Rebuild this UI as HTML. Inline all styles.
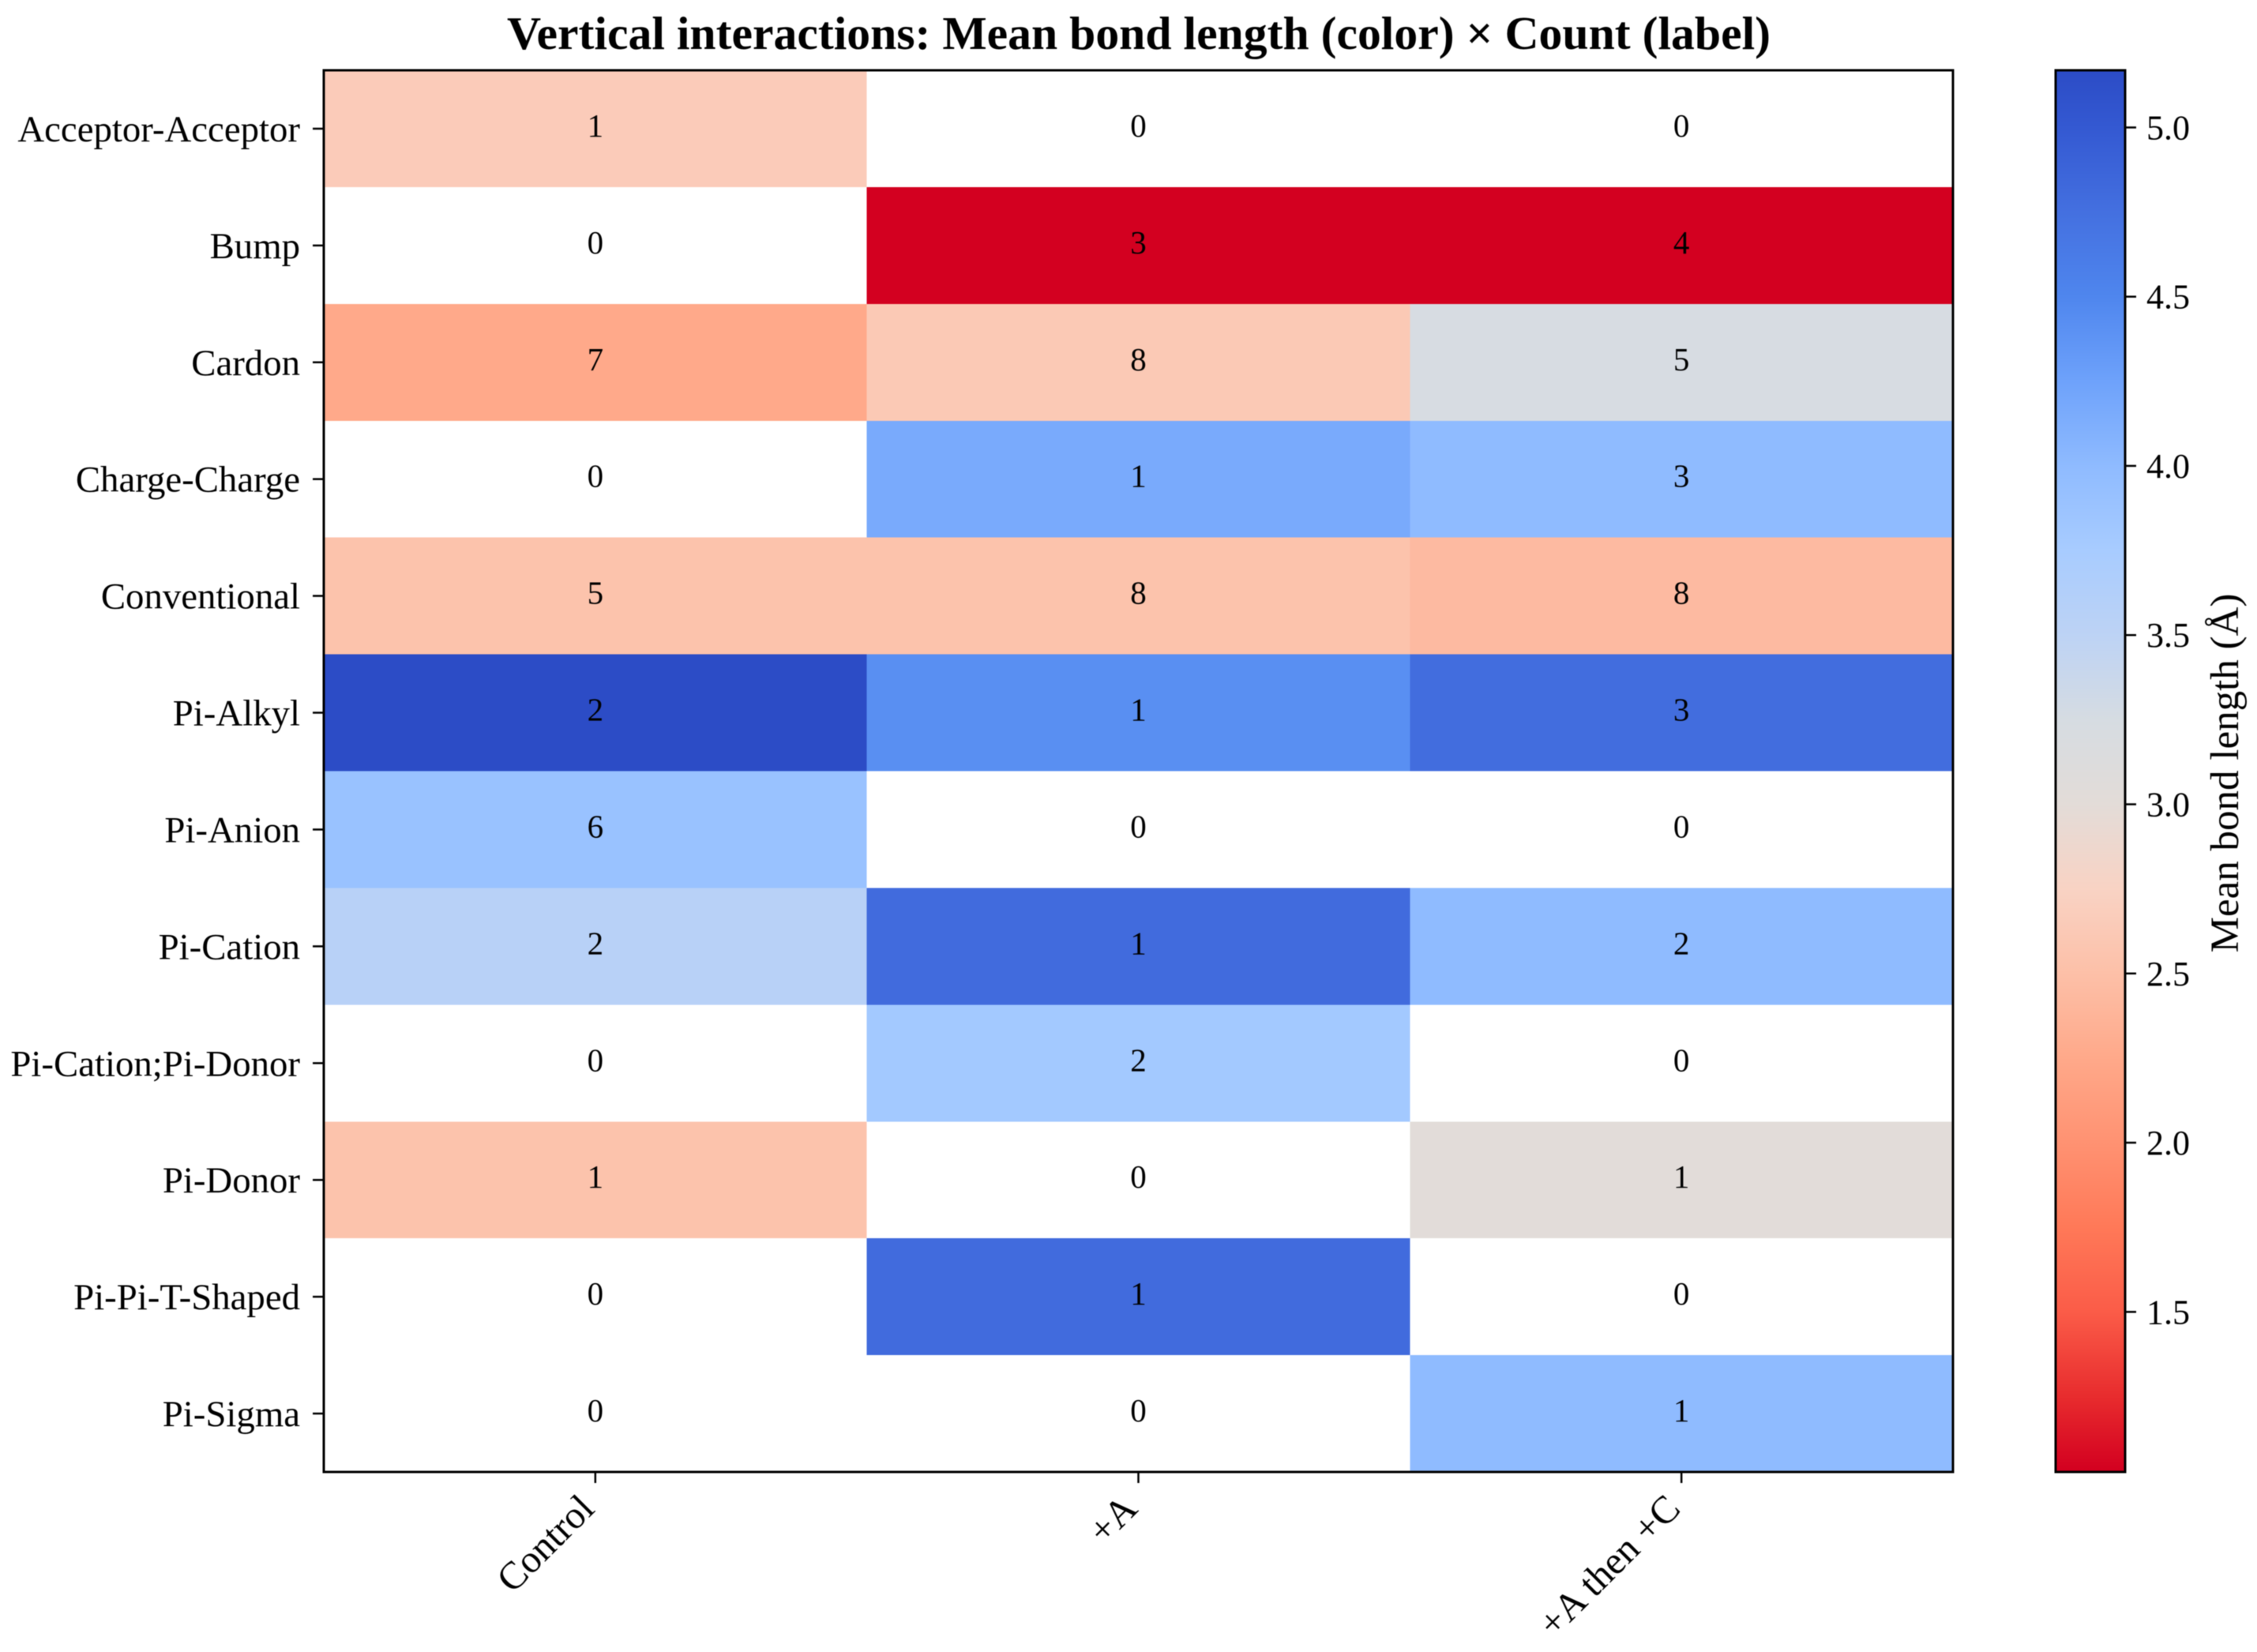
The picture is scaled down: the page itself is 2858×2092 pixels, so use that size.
<!DOCTYPE html>
<html lang="en">
<head>
<meta charset="utf-8">
<title>Vertical interactions heatmap</title>
<style>
html,body{margin:0;padding:0;background:#fff;}
svg{display:block;filter:blur(0.6px);}
text{font-family:"Liberation Serif",serif;fill:#000;}
</style>
</head>
<body>
<svg id="chart" width="2858" height="2092" viewBox="0 0 2858 2092" xmlns="http://www.w3.org/2000/svg">
  <rect x="0" y="0" width="2858" height="2092" fill="#ffffff"/>
  <text x="1442" y="62" text-anchor="middle" font-size="59.7" font-weight="700">Vertical interactions: Mean bond length (color) × Count (label)</text>
  <defs>
    <linearGradient id="cbGradient" x1="0" y1="1" x2="0" y2="0"></linearGradient>
  </defs>
  <g id="cells" shape-rendering="crispEdges"></g>
  <g id="cellLabels"></g>
  <rect x="410" y="89" width="2063" height="1775" fill="none" stroke="#000" stroke-width="3"/>
  <g id="yAxis"></g>
  <g id="xAxis"></g>
  <rect x="2603" y="89" width="88" height="1775" fill="url(#cbGradient)"/>
  <rect x="2603" y="89" width="88" height="1775" fill="none" stroke="#000" stroke-width="3"/>
  <g id="cbAxis"></g>
  <text transform="translate(2834 979) rotate(-90)" text-anchor="middle" font-size="51">Mean bond length (Å)</text>
</svg>
<script>
const interactions = ["Acceptor-Acceptor","Bump","Cardon","Charge-Charge","Conventional","Pi-Alkyl","Pi-Anion","Pi-Cation","Pi-Cation;Pi-Donor","Pi-Donor","Pi-Pi-T-Shaped","Pi-Sigma"];
const treatments = ["Control","+A","+A then +C"];

const lengthControl = [2.65,null,2.25,null,2.54,5.17,3.9,3.56,null,2.54,null,null];
const lengthA = [null,1.03,2.62,4.17,2.54,4.42,null,4.8,3.8,null,4.8,null];
const lengthAThenC = [null,1.03,3.24,4.0,2.44,4.78,null,4.0,null,3.02,null,4.0];

const countControl = [1,0,7,0,5,2,6,2,0,1,0,0];
const countA = [0,3,8,1,8,1,0,1,2,0,1,0];
const countAThenC = [0,4,5,3,8,3,0,2,0,1,0,1];

const colorbarTicks = ["5.0","4.5","4.0","3.5","3.0","2.5","2.0","1.5"];
const scaleMin = 1.027;
const scaleMax = 5.169;

const rampValues = [1.03,1.25,1.5,1.75,2.0,2.25,2.5,2.75,3.0,3.25,3.5,3.75,4.0,4.25,4.5,4.75,5.0,5.17];
const rampColors = ["#d30020","#e82c2e","#fb5c48","#ff7958","#ff9272","#ffa98a","#fdc0a8","#f9d3c4","#e3dcd8","#d6dce2","#bdd3f5","#a8ccff","#8fbbff","#6ea2fb","#4f86ee","#4470e0","#3459d2","#2c4cc6"];

const plotLeft = 410, plotRight = 2473, plotTop = 89, plotBottom = 1864;
const svgNS = "http://www.w3.org/2000/svg";
const lengthSeries = [lengthControl, lengthA, lengthAThenC];
const countSeries = [countControl, countA, countAThenC];

function xBand(i){ return plotLeft + i * (plotRight - plotLeft) / treatments.length; }
function yBand(j){ return plotTop + j * (plotBottom - plotTop) / interactions.length; }
function xCenter(i){ return xBand(i + 0.5); }
function yCenter(j){ return yBand(j + 0.5); }
function cbY(v){ return plotBottom - (v - scaleMin) / (scaleMax - scaleMin) * (plotBottom - plotTop); }

function hexToRgb(h){ return [1,3,5].map(function(k){ return parseInt(h.substr(k,2),16); }); }
function colorFor(v){
  if (v <= rampValues[0]) return rampColors[0];
  for (let k = 1; k < rampValues.length; k++) {
    if (v <= rampValues[k]) {
      const t = (v - rampValues[k-1]) / (rampValues[k] - rampValues[k-1]);
      const a = hexToRgb(rampColors[k-1]), b = hexToRgb(rampColors[k]);
      return "rgb(" + a.map(function(c,n){ return Math.round(c + (b[n]-c)*t); }).join(",") + ")";
    }
  }
  return rampColors[rampColors.length-1];
}
function make(tag, attrs, parent){
  const el = document.createElementNS(svgNS, tag);
  Object.keys(attrs).forEach(function(k){ el.setAttribute(k, attrs[k]); });
  parent.appendChild(el);
  return el;
}

const cellsG = document.getElementById("cells");
const labelsG = document.getElementById("cellLabels");
const yG = document.getElementById("yAxis");
const xG = document.getElementById("xAxis");
const cbG = document.getElementById("cbAxis");
const grad = document.getElementById("cbGradient");

treatments.forEach(function(group, i){
  interactions.forEach(function(name, j){
    const v = lengthSeries[i][j];
    if (v !== null) {
      const cell = make("rect", {x:xBand(i), y:yBand(j), width:xBand(i+1)-xBand(i), height:yBand(j+1)-yBand(j), fill:colorFor(v)}, cellsG);
      
      
    }
    const label = make("text", {x:xCenter(i), y:yCenter(j)+10, "text-anchor":"middle", "font-size":"41"}, labelsG);
    label.textContent = countSeries[i][j];
    
    
  });
});

interactions.forEach(function(name, j){
  const tick = make("line", {x1:plotLeft-14, x2:plotLeft, y1:yCenter(j), y2:yCenter(j), stroke:"#000", "stroke-width":"2.5"}, yG);
  
  
  const label = make("text", {x:plotLeft-30, y:yCenter(j)+16, "text-anchor":"end", "font-size":"46.8"}, yG);
  label.textContent = name;
  
  
});

treatments.forEach(function(group, i){
  const tick = make("line", {x1:xCenter(i), x2:xCenter(i), y1:plotBottom, y2:plotBottom+14, stroke:"#000", "stroke-width":"2.5"}, xG);
  
  
  const label = make("text", {transform:"translate(" + (xCenter(i)+1) + " " + (plotBottom+49) + ") rotate(-45)", "text-anchor":"end", "font-size":"49"}, xG);
  label.textContent = group;
  
  
});

rampValues.forEach(function(v, k){
  const pos = (v - scaleMin) / (scaleMax - scaleMin);
  make("stop", {offset:Math.max(0, Math.min(1, pos)), "stop-color":rampColors[k]}, grad);
});

colorbarTicks.forEach(function(t){
  const y = cbY(parseFloat(t));
  const tick = make("line", {x1:2691, x2:2705, y1:y, y2:y, stroke:"#000", "stroke-width":"2.5"}, cbG);
  
  
  const label = make("text", {x:2718, y:y+15, "font-size":"44"}, cbG);
  label.textContent = t;
  
  
});
</script>
</body>
</html>
